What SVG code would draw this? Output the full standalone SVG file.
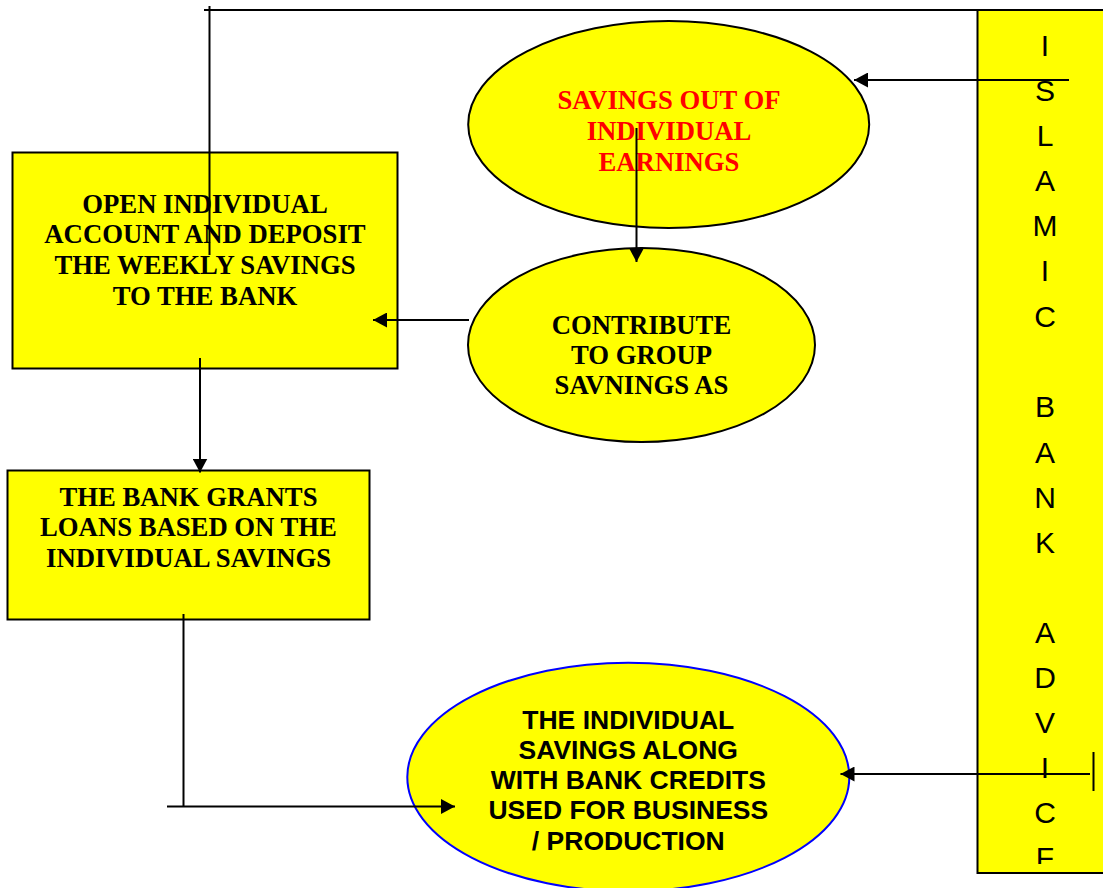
<svg xmlns="http://www.w3.org/2000/svg" width="1103" height="888" viewBox="0 0 1103 888">
  <style>
    .box { fill: #ffff00; stroke: #000; stroke-width: 2; }
    .oval { fill: #ffff00; stroke: #000; stroke-width: 2; }
    .oval-blue { fill: #ffff00; stroke: #0000ff; stroke-width: 2; }
    .serif { font-family: "Liberation Serif", "Times New Roman", serif; font-weight: bold; font-size: 26.7px; text-anchor: middle; fill: #000; }
    .serif-red { fill: #ff0000; }
    .sans { font-family: "Liberation Sans", Arial, sans-serif; font-weight: bold; font-size: 26.5px; text-anchor: middle; fill: #000; }
    .col { font-family: "Liberation Sans", Arial, sans-serif; font-size: 30px; text-anchor: middle; fill: #000; }
    .wire { fill: none; stroke: #000; stroke-width: 2; }
  </style>
  <defs>
    <marker id="head" markerUnits="userSpaceOnUse" markerWidth="15" markerHeight="15" refX="14" refY="7.5" orient="auto">
      <path d="M0,0 L14,7.5 L0,15 z" fill="#000"/>
    </marker>
    <clipPath id="colClip">
      <rect x="977" y="10" width="130" height="854"/>
    </clipPath>
  </defs>

  <rect width="1103" height="888" fill="#fff"/>

  <!-- vertical side panel -->
  <g id="islamic-bank-advice">
    <rect class="box" x="977.5" y="10" width="140" height="863"/>
    <g class="col" clip-path="url(#colClip)">
      <text x="1045" y="56">I</text>
      <text x="1045" y="101">S</text>
      <text x="1045" y="146">L</text>
      <text x="1045" y="191">A</text>
      <text x="1045" y="236">M</text>
      <text x="1045" y="281">I</text>
      <text x="1045" y="326.5">C</text>
      <text x="1045" y="417">B</text>
      <text x="1045" y="462.5">A</text>
      <text x="1045" y="507.5">N</text>
      <text x="1045" y="552.5">K</text>
      <text x="1045" y="642.5">A</text>
      <text x="1045" y="687.5">D</text>
      <text x="1045" y="732.5">V</text>
      <text x="1045" y="777.5">I</text>
      <text x="1045" y="823">C</text>
      <text x="1045" y="868">F</text>
    </g>
  </g>

  <g id="savings-earnings">
    <ellipse class="oval" cx="668.7" cy="124.5" rx="200.5" ry="103.5"/>
    <g class="serif serif-red">
      <text x="669" y="109">SAVINGS OUT OF</text>
      <text x="669" y="139.5">INDIVIDUAL</text>
      <text x="669" y="170.5">EARNINGS</text>
    </g>
  </g>

  <g id="contribute-group">
    <ellipse class="oval" cx="641.5" cy="345" rx="173.5" ry="97"/>
    <g class="serif">
      <text x="641.5" y="334">CONTRIBUTE</text>
      <text x="641.5" y="364">TO GROUP</text>
      <text x="641.5" y="394">SAVNINGS AS</text>
    </g>
  </g>

  <g id="open-account">
    <rect class="box" x="12.5" y="152.5" width="385" height="216"/>
    <g class="serif">
      <text x="205" y="213">OPEN INDIVIDUAL</text>
      <text x="205" y="243">ACCOUNT AND DEPOSIT</text>
      <text x="205" y="273.5">THE WEEKLY SAVINGS</text>
      <text x="205" y="304.5">TO THE BANK</text>
    </g>
  </g>

  <g id="bank-grants">
    <rect class="box" x="7.5" y="470.5" width="362" height="149"/>
    <g class="serif">
      <text x="188.5" y="506">THE BANK GRANTS</text>
      <text x="188.5" y="536">LOANS BASED ON THE</text>
      <text x="188.5" y="566.5">INDIVIDUAL SAVINGS</text>
    </g>
  </g>

  <g id="business-production">
    <ellipse class="oval-blue" cx="628.3" cy="777" rx="221" ry="114.3"/>
    <g class="sans">
      <text x="628.3" y="728.5">THE INDIVIDUAL</text>
      <text x="628.3" y="758.5">SAVINGS ALONG</text>
      <text x="628.3" y="788.5">WITH BANK CREDITS</text>
      <text x="628.3" y="819">USED FOR BUSINESS</text>
      <text x="628.3" y="849.5">/ PRODUCTION</text>
    </g>
  </g>

  <g id="connectors">
    <path class="wire" d="M204,10 H1103"/>
    <path class="wire" d="M209.5,6 V255"/>
    <path class="wire" d="M1069,80 H854" marker-end="url(#head)"/>
    <path class="wire" d="M636.5,128 V262" marker-end="url(#head)"/>
    <path class="wire" d="M469,320 H373" marker-end="url(#head)"/>
    <path class="wire" d="M200,358 V472.5" marker-end="url(#head)"/>
    <path class="wire" d="M183.5,614 V806.5"/>
    <path class="wire" d="M167,806.5 H455" marker-end="url(#head)"/>
    <path class="wire" d="M1090,774 H840.5" marker-end="url(#head)"/>
    <path class="wire" d="M1093.5,752 V791"/>
  </g>
</svg>
